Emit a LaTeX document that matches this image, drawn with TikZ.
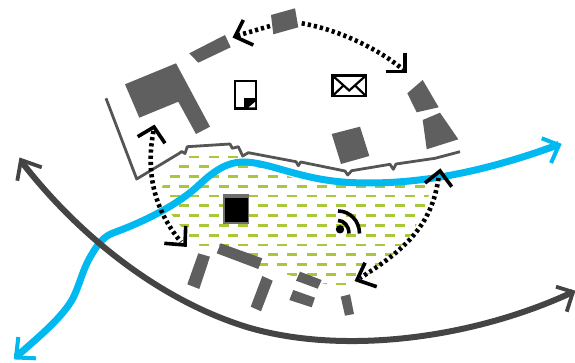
\documentclass[tikz,border=0pt]{standalone}
\begin{document}
\begin{tikzpicture}[x=1pt,y=-1pt,
  building/.style={fill=bldg,draw=none},
  wall/.style={draw=wallc,line width=2.8pt,line join=round},
  river/.style={draw=bluec,line width=7pt},
  road/.style={draw=darkc,line width=6pt},
  riverhead/.style={draw=bluec,line width=4pt,miter limit=10},
  roadhead/.style={draw=darkc,line width=3.8pt,miter limit=10},
  dotarrow/.style={draw=black,line width=4.6pt,dash pattern=on 3.2pt off 3pt},
  chevron/.style={draw=black,line width=3.6pt,miter limit=10},
  hatch/.style={draw=hatchc,line width=2.8pt}]
\definecolor{bldg}{HTML}{5F5F5F}
\definecolor{wallc}{HTML}{555555}
\definecolor{bluec}{HTML}{00B9F0}
\definecolor{darkc}{HTML}{444444}
\definecolor{hatchc}{HTML}{A8C83A}
\useasboundingbox (0,0) rectangle (575,363);
% hatching
\begin{scope}
\clip (191,154) -- (232,154) -- (250,160) -- (275,172) -- (300,180) -- (340,184) -- (430,184)
  -- (430,192) -- (423,212) -- (411,235) -- (390,258) -- (357,283) -- (342,288) -- (300,278)
  -- (262,268) -- (250,258) -- (205,250) -- (190,238) -- (172,215) -- (161,190) -- (168,172) -- (180,163) -- cycle;
\foreach \i in {0,...,13}{
  \pgfmathsetmacro{\rowy}{157+9.77*\i}
  \pgfmathsetmacro{\rowx}{mod(\i,2)==0 ? 150 : 159.7}
  \foreach \k in {0,...,15}{
    \draw[hatch] ({\rowx+19.6*\k},\rowy) -- ++(10,0);
  }
}
\end{scope}
% wall
\draw[wall] (106,98.3) -- (136.7,179) -- (179.3,153.3) -- (181.7,151.5) -- (185,153.5) -- (187.3,146.7)
  -- (230,144) -- (232.3,148.3) -- (238.3,146.7) -- (242.7,156) -- (248.3,152.7) -- (296,161.7)
  -- (298.3,165.7) -- (300.7,162) -- (345,171) -- (347.7,175) -- (351.7,170.7) -- (390,164.3)
  -- (393.3,169.3) -- (396,164) -- (435,158.3) -- (460,151.7);
% buildings
\fill[building] (125,84.3) -- (176,63.3) -- (210,126.7) -- (196,134) -- (178.3,101.7) -- (139.3,117.7) -- cycle;
\fill[building] (189.3,53.3) -- (225,35) -- (230.7,47.3) -- (198.3,62.7) -- cycle;
\fill[building] (271,15) -- (295,8.3) -- (298.3,27.3) -- (273.3,34.3) -- cycle;
\fill[building] (407.3,93.3) -- (422.7,80) -- (438.7,107.3) -- (416.7,112.3) -- cycle;
\fill[building] (422.7,120) -- (440,112.7) -- (458.3,139.3) -- (426.7,149.3) -- cycle;
\fill[building] (331.7,134) -- (360,126.7) -- (369.3,156) -- (341,164) -- cycle;
\fill[building] (198.3,253.3) -- (210,256.7) -- (199.3,289) -- (187.3,284.3) -- cycle;
\fill[building] (220.7,243.3) -- (262.3,258.3) -- (258.3,269) -- (216.7,253.3) -- cycle;
\fill[building] (262.3,276) -- (272.7,280.7) -- (261,311.3) -- (250.7,306.7) -- cycle;
\fill[building] (300,271.7) -- (321.7,280) -- (317.7,288.7) -- (296,280.7) -- cycle;
\fill[building] (293.3,290) -- (315,297.7) -- (311.7,307.3) -- (289.3,300) -- cycle;
\fill[building] (340.7,296.7) -- (350,294.3) -- (354,314) -- (345,315.7) -- cycle;
% black building
\fill[wallc!85] (222.7,194) rectangle (249,224);
\fill[black] (224.5,198.5) rectangle (247.5,222.3);
% document icon
\draw[black,line width=2.4pt] (235,81) rectangle (256,108.5);
\fill[black] (244,97.7) rectangle (256.5,109);
\fill[white] (255,102) -- (255,107.5) -- (248.5,107.5) -- cycle;
% envelope icon
\draw[black,line width=2.2pt] (332.5,75.5) rectangle (366,96);
\draw[black,line width=2.2pt] (332.5,75.5) -- (349.2,90.5) -- (366,75.5);
\draw[black,line width=2.2pt] (333,95.5) -- (343.5,85.5) (365.5,95.5) -- (355,85.5);
% wifi icon
\fill[black] (340,229.3) circle (4.2);
\draw[black,line width=3.6pt] (338,211) .. controls (350,211) and (359.5,221) .. (359.5,233.5);
\draw[black,line width=3.6pt] (338,220.5) .. controls (344,220.5) and (349,226) .. (349,233.5);
% river
\draw[river] (16,357) .. controls (35,340) and (60,320) .. (72,300)
  .. controls (80,285) and (82,270) .. (92,254)
  .. controls (99,242) and (105,236) .. (113,233)
  .. controls (135,225) and (175,208) .. (200,184)
  .. controls (215,170) and (228,162) .. (243,162)
  .. controls (270,162) and (300,180) .. (350,182.5)
  .. controls (420,186) and (490,170) .. (559,144.5);
\draw[riverhead] (541.7,138.3) -- (559,145) -- (551,163);
\draw[riverhead] (18.3,337) -- (16,357.5) -- (36,358.3);
% road
\draw[road] (21,161) .. controls (70,225) and (150,297) .. (246.7,327)
  .. controls (340,355) and (470,340) .. (573,292);
\draw[roadhead] (17.3,180.7) -- (21,160) -- (41.7,167.3);
\draw[roadhead] (556,286.7) -- (573,292) -- (566.7,311.7);
% dotted arrows
\draw[dotarrow] (270,26) -- (236,36);
\draw[chevron] (243.3,20) -- (235,36.7) -- (253.3,45);
\draw[dotarrow] (301.7,23.3) .. controls (340,30) and (380,50) .. (403,69.5);
\draw[chevron] (405,52.7) -- (405,71.7) -- (385.7,71.7);
\draw[dotarrow] (153.5,131) .. controls (147,165) and (150,205) .. (181,242);
\draw[chevron] (137.7,136.7) -- (154,127) -- (165,143.3);
\draw[chevron] (185.7,226) -- (185,245) -- (164.3,243.3);
\draw[dotarrow] (438.5,178) .. controls (432,225) and (405,250) .. (360,278);
\draw[chevron] (425,183) -- (440,171) -- (451.7,186.7);
\draw[chevron] (365,262.7) -- (357,280) -- (376.7,286.7);
\end{tikzpicture}
\end{document}
